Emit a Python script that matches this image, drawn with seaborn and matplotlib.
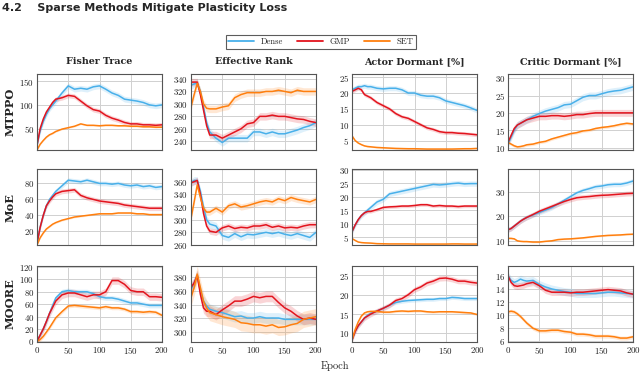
import matplotlib
matplotlib.use('Agg')
import matplotlib.pyplot as plt
import pandas as pd
import seaborn as sns

epochs = [0, 5, 10, 15, 20, 25, 30, 40, 50, 60, 70, 80, 90, 100,
          110, 120, 130, 140, 150, 160, 170, 180, 190, 200]

methods = ['Dense', 'GMP', 'SET']
columns = ['Fisher Trace', 'Effective Rank', 'Actor Dormant [%]', 'Critic Dormant [%]']
rows = ['MTPPO', 'MoE', 'MOORE']

# ---- MTPPO ----
mtppo_fisher_dense = [15, 45, 65, 80, 92, 100, 108, 125, 140, 133, 135, 133, 138, 140, 133, 125, 120, 112, 110, 108, 105, 100, 98, 100]
mtppo_fisher_gmp = [15, 50, 70, 85, 95, 105, 112, 115, 120, 118, 108, 98, 90, 87, 78, 72, 68, 63, 60, 60, 58, 58, 57, 58]
mtppo_fisher_set = [5, 17, 25, 32, 37, 40, 44, 49, 52, 55, 60, 57, 57, 56, 57, 57, 56, 56, 55, 55, 54, 54, 53, 53]

mtppo_rank_dense = [330, 332, 333, 320, 295, 270, 255, 245, 238, 245, 245, 245, 245, 255, 255, 252, 255, 252, 252, 255, 258, 262, 265, 270]
mtppo_rank_gmp = [335, 335, 335, 315, 290, 265, 250, 250, 245, 250, 255, 260, 268, 270, 280, 280, 282, 280, 280, 278, 276, 275, 272, 270]
mtppo_rank_set = [295, 315, 333, 320, 300, 293, 292, 292, 295, 297, 310, 315, 318, 318, 318, 320, 320, 322, 320, 318, 322, 320, 320, 320]

mtppo_actor_dense = [21, 21.5, 22, 22, 22.3, 22, 22, 21.5, 21.3, 21.5, 21.5, 21, 20, 20, 19.3, 19, 19, 18.5, 17.5, 17, 16.5, 16, 15.3, 14.5]
mtppo_actor_gmp = [20.5, 21, 21.5, 21, 19.5, 19, 18.5, 17, 16, 15, 13.5, 12.5, 12, 11, 10, 9, 8.5, 7.8, 7.5, 7.5, 7.3, 7.2, 7, 6.8]
mtppo_actor_set = [6.5, 5, 4.2, 3.7, 3.3, 3.1, 3, 2.8, 2.7, 2.6, 2.5, 2.45, 2.4, 2.4, 2.35, 2.3, 2.3, 2.3, 2.3, 2.3, 2.35, 2.4, 2.4, 2.5]

mtppo_critic_dense = [11, 13, 15, 16.5, 17, 17.5, 18, 19, 19.8, 20.5, 21, 21.5, 22.3, 22.5, 23.5, 24.5, 25, 25, 25.5, 26, 26.3, 26.5, 27, 27.5]
mtppo_critic_gmp = [11.5, 13.5, 15.5, 16.5, 17, 17.5, 18, 18.5, 19, 19, 19.2, 19.2, 19, 19.2, 19.5, 19.5, 19.8, 20, 20, 20, 20, 20, 20, 20]
mtppo_critic_set = [11.5, 11, 10.5, 10.2, 10.3, 10.5, 10.8, 11, 11.5, 11.8, 12.5, 13, 13.5, 14, 14.3, 14.8, 15, 15.5, 15.8, 16, 16.3, 16.7, 17, 16.8]

# ---- MoE ----
moe_fisher_dense = [5, 25, 40, 52, 60, 65, 70, 77, 84, 83, 82, 84, 82, 80, 80, 79, 80, 78, 77, 78, 76, 77, 75, 76]
moe_fisher_gmp = [5, 25, 40, 52, 58, 63, 67, 70, 71, 72, 65, 62, 60, 58, 57, 56, 55, 53, 52, 51, 50, 49, 49, 49]
moe_fisher_set = [3, 12, 18, 23, 26, 29, 31, 34, 36, 38, 39, 40, 41, 42, 42, 42, 43, 43, 43, 42, 42, 41, 41, 41]

moe_rank_dense = [358, 362, 362, 345, 320, 300, 293, 290, 275, 272, 278, 273, 277, 276, 278, 280, 278, 280, 277, 275, 278, 275, 272, 280]
moe_rank_gmp = [358, 360, 362, 340, 310, 290, 282, 280, 287, 290, 286, 288, 287, 290, 290, 292, 288, 290, 287, 288, 287, 290, 292, 292]
moe_rank_set = [302, 328, 355, 335, 318, 312, 312, 318, 312, 322, 325, 320, 322, 325, 328, 330, 328, 333, 330, 335, 332, 330, 328, 332]

moe_actor_dense = [7, 9.5, 11.5, 13, 14, 15, 16, 18, 19, 21, 21.5, 22, 22.5, 23, 23.5, 24, 24.5, 24.3, 24.5, 24.8, 25, 24.7, 24.8, 24.8]
moe_actor_gmp = [7, 9.5, 11.5, 13, 14, 14.5, 14.5, 15.2, 16, 16.2, 16.3, 16.5, 16.5, 16.7, 17, 17, 16.5, 16.7, 16.5, 16.5, 16.3, 16.5, 16.5, 16.5]
moe_actor_set = [4.5, 3.8, 3.2, 3, 2.9, 2.85, 2.8, 2.6, 2.55, 2.5, 2.5, 2.5, 2.5, 2.45, 2.45, 2.45, 2.45, 2.45, 2.45, 2.5, 2.5, 2.45, 2.45, 2.45]

moe_critic_dense = [14.5, 15, 16, 17, 18, 18.8, 19.5, 20.5, 21.5, 22.5, 23.5, 25, 26.5, 28, 29.5, 30.5, 31.2, 32, 32.3, 32.8, 33, 33, 33.5, 34.3]
moe_critic_gmp = [14.5, 15, 16, 17, 18, 18.8, 19.5, 20.7, 22, 23, 24, 25, 26, 26.8, 27.5, 27.8, 28, 28.3, 28.5, 28.6, 28.8, 29, 29.2, 29.3]
moe_critic_set = [11, 11, 10.8, 10, 9.8, 9.7, 9.7, 9.5, 9.5, 9.8, 10, 10.5, 10.7, 10.8, 11, 11.2, 11.5, 11.8, 12, 12.2, 12.3, 12.4, 12.6, 12.7]

# ---- MOORE ----
moore_fisher_dense = [0, 10, 20, 32, 45, 58, 70, 80, 82, 80, 80, 80, 77, 72, 70, 70, 68, 65, 62, 62, 60, 58, 58, 58]
moore_fisher_gmp = [0, 10, 20, 32, 45, 55, 65, 75, 78, 78, 75, 72, 75, 75, 80, 98, 98, 92, 82, 80, 80, 72, 72, 71]
moore_fisher_set = [0, 3, 8, 15, 22, 30, 38, 48, 57, 58, 57, 56, 55, 54, 56, 54, 54, 52, 48, 48, 47, 48, 47, 42]

moore_rank_dense = [362, 372, 383, 360, 345, 338, 333, 330, 328, 325, 322, 323, 320, 320, 322, 320, 320, 320, 318, 318, 318, 318, 318, 318]
moore_rank_gmp = [365, 372, 383, 355, 335, 330, 330, 325, 332, 338, 345, 345, 348, 352, 350, 352, 352, 343, 335, 330, 323, 318, 320, 318]
moore_rank_set = [350, 365, 385, 365, 345, 335, 328, 325, 322, 320, 318, 313, 312, 310, 310, 308, 310, 306, 307, 310, 312, 318, 320, 322]

moore_actor_dense = [8.3, 10.5, 12, 13, 14, 14.7, 15.2, 15.8, 16.5, 17.3, 18, 18.3, 18.5, 18.6, 18.7, 18.8, 18.8, 19, 19, 19.3, 19.2, 19, 19, 19]
moore_actor_gmp = [8.3, 10.5, 12, 13, 14, 14.5, 15, 15.8, 16.5, 17.3, 18.5, 19, 20, 21.3, 22, 23, 23.5, 24.2, 24.3, 24, 23.5, 23.5, 23.2, 23]
moore_actor_set = [8.3, 11, 13, 14.5, 15.3, 15.6, 15.7, 15.7, 15.5, 15.5, 15.7, 15.8, 15.7, 15.8, 15.8, 15.6, 15.5, 15.6, 15.6, 15.6, 15.5, 15.4, 15.3, 14.9]

moore_critic_dense = [16, 15.3, 15, 15.2, 15.5, 15.3, 15.2, 15.3, 14.7, 14.3, 14, 13.8, 13.6, 13.5, 13.3, 13.3, 13.3, 13.3, 13.4, 13.5, 13.5, 13.4, 13.3, 13.2]
moore_critic_gmp = [16, 15, 14.5, 14.4, 14.5, 14.6, 14.8, 15, 14.5, 13.8, 13.5, 13.5, 13.5, 13.4, 13.5, 13.5, 13.6, 13.7, 13.8, 13.9, 13.8, 13.7, 13.4, 13.2]
moore_critic_set = [10.5, 10.6, 10.5, 10.2, 9.8, 9.3, 8.8, 8, 7.6, 7.6, 7.7, 7.7, 7.5, 7.4, 7.1, 7.1, 7, 6.8, 6.8, 6.8, 6.7, 6.5, 6.5, 6.7]

# spread of the shaded band (Dense, GMP, SET) per panel
band_mtppo = [(6, 5, 1.5), (6, 6, 6), (0.8, 0.6, 0.2), (1, 1, 0.4)]
band_moe = [(3, 3, 1), (6, 5, 5), (1, 0.6, 0.1), (1, 1, 0.3)]
band_moore = [(4, 6, 3), (8, 8, 12), (0.5, 0.7, 0.3), (0.6, 0.5, 0.3)]

series = [
    [(mtppo_fisher_dense, mtppo_fisher_gmp, mtppo_fisher_set),
     (mtppo_rank_dense, mtppo_rank_gmp, mtppo_rank_set),
     (mtppo_actor_dense, mtppo_actor_gmp, mtppo_actor_set),
     (mtppo_critic_dense, mtppo_critic_gmp, mtppo_critic_set)],
    [(moe_fisher_dense, moe_fisher_gmp, moe_fisher_set),
     (moe_rank_dense, moe_rank_gmp, moe_rank_set),
     (moe_actor_dense, moe_actor_gmp, moe_actor_set),
     (moe_critic_dense, moe_critic_gmp, moe_critic_set)],
    [(moore_fisher_dense, moore_fisher_gmp, moore_fisher_set),
     (moore_rank_dense, moore_rank_gmp, moore_rank_set),
     (moore_actor_dense, moore_actor_gmp, moore_actor_set),
     (moore_critic_dense, moore_critic_gmp, moore_critic_set)],
]
bands = [band_mtppo, band_moe, band_moore]

yticks = [
    [[50, 100, 150], [240, 260, 280, 300, 320, 340], [5, 10, 15, 20, 25], [10, 15, 20, 25, 30]],
    [[20, 40, 60, 80], [260, 280, 300, 320, 340, 360], [5, 10, 15, 20, 25, 30], [10, 20, 30]],
    [[0, 20, 40, 60, 80, 100, 120], [300, 320, 340, 360, 380], [10, 15, 20, 25], [6, 8, 10, 12, 14, 16]],
]
ylims = [
    [(5, 165), (226, 348), (2, 26), (9.3, 31.2)],
    [(3, 98), (260, 380), (2.1, 30.2), (8.3, 39.2)],
    [(-1, 121.5), (284.5, 397), (7.8, 27.4), (5.9, 17.5)],
]

palette = {'Dense': '#48B0EA', 'GMP': '#E3141E', 'SET': '#FF7F0E'}

sns.set_theme(style='whitegrid')
plt.rcParams['font.family'] = ['cmr10', 'DejaVu Serif']
plt.rcParams['axes.formatter.use_mathtext'] = True
plt.rcParams['mathtext.fontset'] = 'cm'

fig = plt.figure(figsize=(6.4, 3.74), dpi=100)

lefts = [37, 191, 352, 508]
tops = [74, 169, 266]
w_px, h_px = 125, 76
W, H = 640, 374

for r in range(3):
    for c in range(4):
        ax = fig.add_axes([lefts[c] / W, 1 - (tops[r] + h_px) / H, w_px / W, h_px / H])
        df = pd.DataFrame({
            'Epoch': epochs * 3,
            'value': [v for s in series[r][c] for v in s],
            'method': [m for m in methods for _ in epochs],
        })
        for m, s, b in zip(methods, series[r][c], bands[r][c]):
            ax.fill_between(epochs, [v - b for v in s], [v + b for v in s],
                            color=palette[m], alpha=0.18, lw=0)
        sns.lineplot(data=df, x='Epoch', y='value', hue='method', palette=palette,
                     hue_order=methods, lw=1.1, legend=False, ax=ax)
        ax.set_xlim(0, 200)
        ax.set_ylim(*ylims[r][c])
        ax.set_xticks([0, 50, 100, 150, 200])
        ax.set_yticks(yticks[r][c])
        ax.set_xlabel('')
        ax.set_ylabel('')
        ax.grid(True, color='#d0d0d0', lw=0.7)
        ax.set_facecolor('white')
        for sp in ax.spines.values():
            sp.set_color('#555555')
            sp.set_linewidth(0.8)
        ax.tick_params(length=0, labelsize=6.4, pad=2, colors='#222222')
        if r < 2:
            ax.set_xticklabels([])
        if r == 0:
            ax.set_title(columns[c], fontsize=6.8, fontweight='bold',
                         family='DejaVu Serif', pad=7)
        if c == 0:
            fig.text(10 / W, 1 - (tops[r] + h_px / 2) / H, rows[r], rotation=90,
                     ha='center', va='center', fontsize=8.2, fontweight='bold',
                     family='DejaVu Serif')

handles = [plt.Line2D([], [], color=palette[m], lw=1.3) for m in methods]
leg = fig.legend(handles, methods, loc='center', bbox_to_anchor=(321 / W, 1 - 42 / H),
                 ncol=3, fontsize=6.2, frameon=True, fancybox=False, handlelength=3,
                 columnspacing=1.6, borderpad=0.3, handletextpad=0.8)
leg.get_frame().set_edgecolor('#333333')
leg.get_frame().set_linewidth(0.8)

fig.text(335 / W, 1 - 366 / H, 'Epoch', ha='center', va='center', fontsize=7.5)
fig.text(2 / W, 1 - 8 / H, '4.2    Sparse Methods Mitigate Plasticity Loss', ha='left',
         va='center', fontsize=8, fontweight='bold', family='DejaVu Sans')

fig.savefig('out.png', dpi=100)
